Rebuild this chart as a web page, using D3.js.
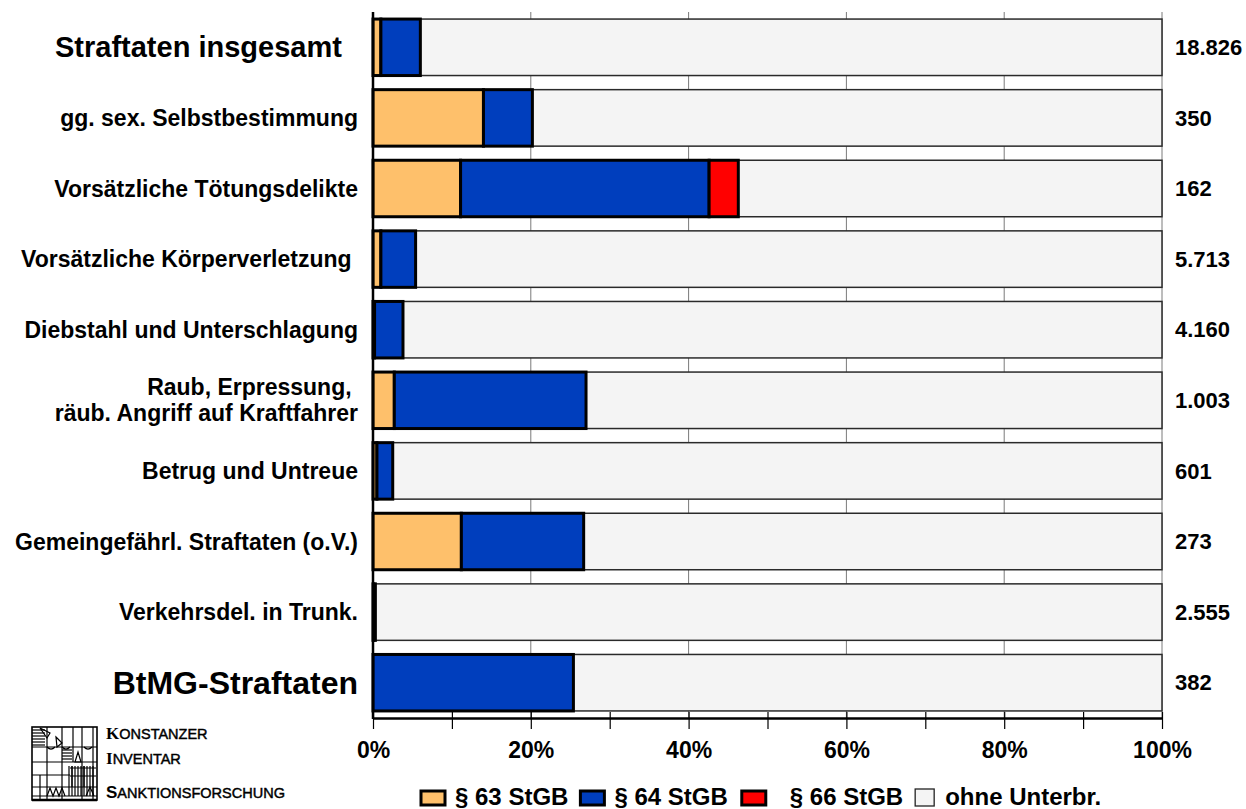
<!DOCTYPE html>
<html><head><meta charset="utf-8">
<script src="https://cdn.jsdelivr.net/npm/d3@7"></script>
<style>
body{margin:0;background:#fff}
svg{display:block}
text{font-family:"Liberation Sans",Arial,Helvetica,sans-serif;font-weight:bold;fill:#000}
</style>
</head><body><svg id="c" width="1246" height="809"></svg>
<script>
// ---------- data ----------
const categories = [
  "Straftaten insgesamt  ",
  "gg. sex. Selbstbestimmung",
  "Vorsätzliche Tötungsdelikte",
  "Vorsätzliche Körperverletzung ",
  "Diebstahl und Unterschlagung",
  "Raub, Erpressung, \nräub. Angriff auf Kraftfahrer",
  "Betrug und Untreue",
  "Gemeingefährl. Straftaten (o.V.)",
  "Verkehrsdel. in Trunk.",
  "BtMG-Straftaten"
];
const seriesNames = ["§ 63 StGB", "§ 64 StGB", "§ 66 StGB", "ohne Unterbr."];
const s63  = [1.0, 14.0, 11.1, 1.0, 0.2, 2.7, 0.5, 11.2, 0.1, 0.0];
const s64  = [5.0,  6.2, 31.5, 4.4, 3.6, 24.3, 2.0, 15.5, 0.2, 25.4];
const s66  = [0.0,  0.0,  3.7, 0.0, 0.0, 0.0, 0.0, 0.0, 0.0, 0.0];
const ohne = s63.map((v, i) => +(100 - v - s64[i] - s66[i]).toFixed(1));
const counts = ["18.826", "350", "162", "5.713", "4.160", "1.003", "601", "273", "2.555", "382"];
const xTicks = [0, 10, 20, 30, 40, 50, 60, 70, 80, 90, 100];
const gridTicks = [20, 40, 60, 80, 100];

(function () {
const svg = d3.select("#c");
const pLeft = 373, pRight = 1162, pTop = 12, pBottom = 718;
const colors = {"§ 63 StGB": "#FEC06B", "§ 64 StGB": "#003EBD", "§ 66 StGB": "#FF0000", "ohne Unterbr.": "#F4F4F4"};
const labelSize = i => i === 0 ? 29 : (i === 9 ? 32 : 23);

const table = categories.map((c, i) => ({
  cat: c, "§ 63 StGB": s63[i], "§ 64 StGB": s64[i], "§ 66 StGB": s66[i], "ohne Unterbr.": ohne[i]
}));

const x = d3.scaleLinear().domain([0, 100]).range([pLeft, pRight]);
const y = d3.scaleBand().domain(categories).range([pTop, pBottom]).paddingInner(0.2).paddingOuter(0.1);

// grid lines
svg.append("g").selectAll("line").data(gridTicks).join("line")
  .attr("x1", d => x(d)).attr("x2", d => x(d))
  .attr("y1", pTop).attr("y2", pBottom)
  .attr("stroke", "#7a7a7a").attr("stroke-width", 1);

// bars
const stacked = d3.stack().keys(seriesNames)(table);
const order = [3, 0, 1, 2];
const gBars = svg.append("g");
order.forEach(si => {
  const s = stacked[si];
  const isBg = s.key === "ohne Unterbr.";
  gBars.append("g").selectAll("rect").data(s.filter(d => d[1] - d[0] > 0)).join("rect")
    .attr("x", d => x(d[0]))
    .attr("y", d => y(d.data.cat))
    .attr("width", d => x(d[1]) - x(d[0]))
    .attr("height", y.bandwidth())
    .attr("fill", colors[s.key])
    .attr("stroke", isBg ? "#2a2a2a" : "#000")
    .attr("stroke-width", isBg ? 1.5 : 3);
});

// left axis line
svg.append("line").attr("x1", pLeft).attr("x2", pLeft).attr("y1", pTop).attr("y2", pBottom + 1)
  .attr("stroke", "#000").attr("stroke-width", 2.5);

// bottom axis
const xAxis = d3.axisBottom(x).tickValues(xTicks).tickSize(10).tickSizeOuter(0)
  .tickFormat(d => d % 20 === 0 ? d + "%" : "");
const gx = svg.append("g").attr("transform", `translate(0,${pBottom})`).call(xAxis);
gx.select(".domain").attr("stroke", "#000").attr("stroke-width", 2.5);
gx.selectAll(".tick line").attr("y1", -6).attr("y2", 11).attr("stroke", "#000").attr("stroke-width", 1.2);
gx.selectAll(".tick text").attr("y", 24).attr("font-size", 23)
  .attr("font-family", '"Liberation Sans",Arial,sans-serif').attr("font-weight", "bold").attr("fill", "#000");

// category labels
const gl = svg.append("g");
categories.forEach((c, i) => {
  const lines = c.split("\n");
  const cy = y(c) + y.bandwidth() / 2;
  const t = gl.append("text").attr("text-anchor", "end").attr("font-size", labelSize(i))
    .style("white-space", "pre");
  const lh = 26;
  lines.forEach((ln, k) => {
    t.append("tspan").attr("x", 358)
      .attr("y", cy + (k - (lines.length - 1) / 2) * lh)
      .attr("dy", "0.35em").text(ln);
  });
});

// count labels
svg.append("g").selectAll("text").data(counts).join("text")
  .attr("x", 1175).attr("y", (d, i) => y(categories[i]) + y.bandwidth() / 2)
  .attr("dy", "0.35em").attr("font-size", 22).text(d => d);

// legend
const lg = svg.append("g");
let lx = 421;
seriesNames.forEach((n, i) => {
  const isBg = n === "ohne Unterbr.";
  if (i === 2) lx += 2;
  lg.append("rect").attr("x", lx).attr("y", isBg ? 789 : 791)
    .attr("width", isBg ? 19 : 24).attr("height", isBg ? 17 : 14)
    .attr("fill", colors[n]).attr("stroke", isBg ? "#222" : "#000").attr("stroke-width", isBg ? 1.3 : 3);
  const tx = lx + (isBg ? 30 : 34) + (i === 2 ? 14 : 0);
  const t = lg.append("text").attr("x", tx).attr("y", 805).attr("font-size", 24).text(n);
  lx = tx + t.node().getComputedTextLength() + 12;
});

// logo (KIS)
const logo = svg.append("g").attr("fill", "none").attr("stroke", "#000").attr("stroke-width", 1.2);
logo.append("rect").attr("x", 32).attr("y", 727).attr("width", 65).attr("height", 73).attr("stroke-width", 1.6);
const vLines = [[47, 727, 800], [62, 727, 800], [73, 727, 762], [82, 727, 800], [93, 727, 800], [40, 775, 800]];
vLines.forEach(([vx, a, b]) => logo.append("line").attr("x1", vx).attr("x2", vx).attr("y1", a).attr("y2", b));
const hLines = [[32, 97, 747], [32, 97, 762], [32, 70, 775], [32, 97, 787], [32, 97, 796]];
hLines.forEach(([a, b, hy]) => logo.append("line").attr("x1", a).attr("x2", b).attr("y1", hy).attr("y2", hy));
for (let k = 0; k < 6; k++) logo.append("line").attr("x1", 32).attr("x2", 45).attr("y1", 730 + k * 3).attr("y2", 730 + k * 3);
for (let k = 0; k < 4; k++) logo.append("line").attr("x1", 62).attr("x2", 72).attr("y1", 750 + k * 3).attr("y2", 750 + k * 3);
logo.append("path").attr("d", "M40,728 L50,733 L47,738 Z M56,737 L62,743 L57,747 Z");
logo.append("path").attr("d", "M47,747 q4,4 8,0 M62,747 q4,4 8,0 M84,747 q4,4 8,0");
logo.append("path").attr("d", "M75,762 L78,752 L81,762 Z M72,766 L72,787 M84,766 L84,787 M70,768 L96,768 M70,776 L96,776");
for (let k = 0; k < 9; k++) logo.append("line").attr("x1", 69 + k * 3).attr("x2", 69 + k * 3).attr("y1", 766).attr("y2", 796);
logo.append("path").attr("d", "M47,796 L50,788 L53,796 L56,788 L59,796 L62,788 L65,796 M86,796 L90,787 L94,796");
logo.append("line").attr("x1", 32).attr("x2", 97).attr("y1", 800).attr("y2", 800).attr("stroke-width", 2.5);

const lt = svg.append("g");
const logoWords = [["K", "ONSTANZER", 739, "serif"], ["I", "NVENTAR", 764, "serif"], ["S", "ANKTIONSFORSCHUNG", 798, "sans"]];
logoWords.forEach(([a, b, by, f]) => {
  const t = lt.append("text").attr("x", 106).attr("y", by);
  t.append("tspan").attr("font-size", 17)
    .attr("font-family", f === "serif" ? '"Liberation Serif","Times New Roman",serif' : '"Liberation Sans",Arial,sans-serif')
    .text(a);
  t.append("tspan").attr("font-size", 14.5).attr("font-weight", "normal").attr("stroke", "#000").attr("stroke-width", 0.45).text(b);
});
})();
</script>
</body></html>
